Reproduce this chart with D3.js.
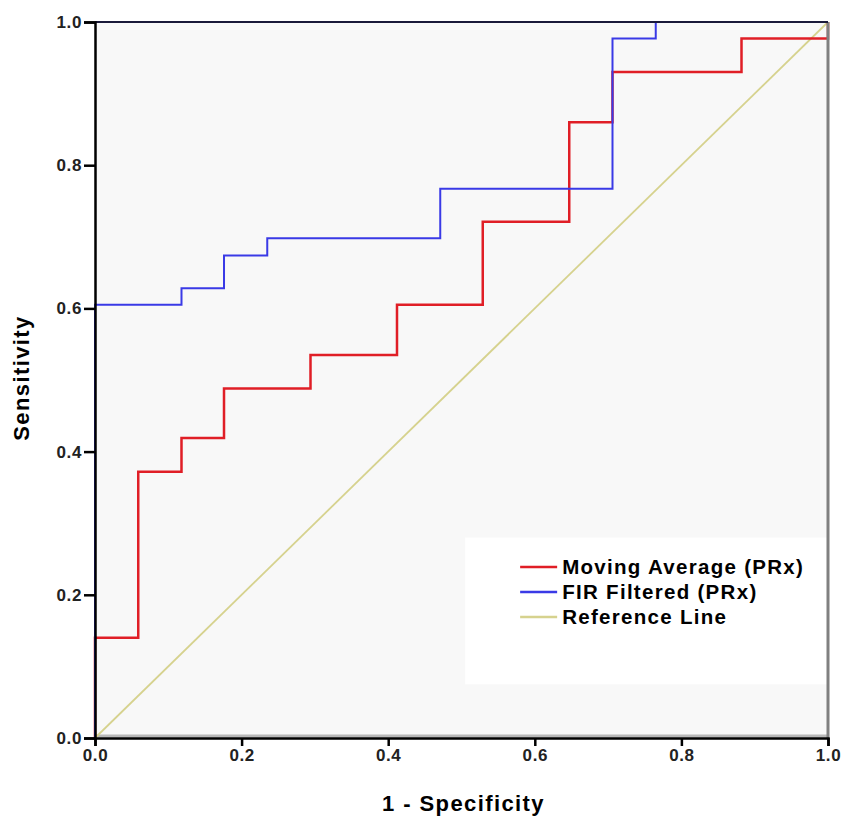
<!DOCTYPE html>
<html>
<head>
<meta charset="utf-8">
<script src="https://cdn.jsdelivr.net/npm/d3@7"></script>
<style>
  body { margin: 0; background: #fff; }
  text { font-family: Arial, "Liberation Sans", sans-serif; }
</style>
</head>
<body>
<div id="chart"></div>
<script>
// ROC curve data: x = 1 - specificity, y = sensitivity
var movingAvgX = [0, 0, 0.059, 0.059, 0.118, 0.118, 0.176, 0.176, 0.294, 0.294, 0.412, 0.412, 0.529, 0.529, 0.647, 0.647, 0.706, 0.706, 0.882, 0.882, 1.0, 1.0];
var movingAvgY = [0, 0.140, 0.140, 0.372, 0.372, 0.419, 0.419, 0.488, 0.488, 0.535, 0.535, 0.605, 0.605, 0.721, 0.721, 0.860, 0.860, 0.930, 0.930, 0.977, 0.977, 1.0];

var firX = [0, 0, 0.118, 0.118, 0.176, 0.176, 0.235, 0.235, 0.471, 0.471, 0.706, 0.706, 0.765, 0.765, 1.0];
var firY = [0, 0.605, 0.605, 0.628, 0.628, 0.674, 0.674, 0.698, 0.698, 0.767, 0.767, 0.977, 0.977, 1.0, 1.0];

var refX = [0, 1];
var refY = [0, 1];

var ticks = [0, 0.2, 0.4, 0.6, 0.8, 1.0];

var legendNames = ["Moving Average (PRx)", "FIR Filtered (PRx)", "Reference Line"];
var colors = ["#e01e26", "#3a3ae6", "#d6d28e"];

var width = 843, height = 816;
var margin = {top: 22, right: 15, bottom: 78, left: 95};
var Gwidth = width - margin.left - margin.right;
var Gheight = height - margin.top - margin.bottom;

var svg = d3.select("#chart").append("svg")
    .attr("width", width)
    .attr("height", height);

var topG = svg.append("g")
    .attr("transform", "translate(" + margin.left + "," + margin.top + ")");

var scaleX = d3.scaleLinear().domain([0, 1]).range([0, Gwidth]);
var scaleY = d3.scaleLinear().domain([0, 1]).range([Gheight, 0]);

// plot background
topG.append("rect")
    .attr("width", Gwidth)
    .attr("height", Gheight)
    .attr("fill", "#f8f8f8");

// legend box (white patch inside plot)
topG.append("rect")
    .attr("x", scaleX(0.505))
    .attr("y", scaleY(0.28))
    .attr("width", scaleX(1) - scaleX(0.505))
    .attr("height", scaleY(0.075) - scaleY(0.28))
    .attr("fill", "#ffffff");

// bottom grey band
topG.append("line")
    .attr("x1", 0).attr("x2", Gwidth)
    .attr("y1", Gheight - 2).attr("y2", Gheight - 2)
    .attr("stroke", "#b8b8b8").attr("stroke-width", 3);

var toPts = function(xs, ys) { return xs.map(function(v, i) { return [v, ys[i]]; }); };

var line = d3.line()
    .x(function(d) { return scaleX(d[0]); })
    .y(function(d) { return scaleY(d[1]); });

topG.append("path")
    .datum(toPts(refX, refY))
    .attr("d", line)
    .attr("fill", "none")
    .attr("stroke", colors[2])
    .attr("stroke-width", 1.8);

topG.append("path")
    .datum(toPts(movingAvgX, movingAvgY))
    .attr("d", line)
    .attr("fill", "none")
    .attr("stroke", colors[0])
    .attr("stroke-width", 2.5);

topG.append("path")
    .datum(toPts(firX, firY))
    .attr("d", line)
    .attr("fill", "none")
    .attr("stroke", colors[1])
    .attr("stroke-width", 2);

// frame
topG.append("line")
    .attr("x1", Gwidth).attr("x2", Gwidth)
    .attr("y1", 0).attr("y2", Gheight)
    .attr("stroke", "#808080").attr("stroke-width", 3);
topG.append("line")
    .attr("x1", 0).attr("x2", Gwidth)
    .attr("y1", 0).attr("y2", 0)
    .attr("stroke", "#1a1a3a").attr("stroke-width", 2);

// axes
var xAxis = topG.append("g")
    .attr("transform", "translate(0," + Gheight + ")")
    .call(d3.axisBottom(scaleX).tickValues(ticks).tickFormat(d3.format(".1f")).tickSize(8).tickPadding(3));
var yAxis = topG.append("g")
    .call(d3.axisLeft(scaleY).tickValues(ticks).tickFormat(d3.format(".1f")).tickSize(11).tickPadding(2));

[xAxis, yAxis].forEach(function(a) {
  a.select(".domain").attr("stroke", "#000").attr("stroke-width", 2.5);
  a.selectAll(".tick line").attr("stroke", "#000").attr("stroke-width", 2.5);
  a.selectAll(".tick text")
    .attr("fill", "#222")
    .style("font-size", "17px")
    .style("font-weight", "bold")
    .style("letter-spacing", "0.6px");
});

// axis titles
topG.append("text")
    .attr("x", Gwidth / 2 + 2)
    .attr("y", Gheight + 73)
    .style("text-anchor", "middle")
    .style("font-size", "22px")
    .style("font-weight", "bold")
    .style("letter-spacing", "1.4px")
    .text("1 - Specificity");

topG.append("text")
    .attr("transform", "rotate(-90)")
    .attr("x", -Gheight / 2 + 2)
    .attr("y", -66)
    .style("text-anchor", "middle")
    .style("font-size", "22px")
    .style("font-weight", "bold")
    .style("letter-spacing", "1.4px")
    .text("Sensitivity");

// legend
var legend = topG.append("g")
    .attr("transform", "translate(" + (scaleX(0.58)) + "," + (scaleY(0.239)) + ")");

legendNames.forEach(function(name, i) {
  var g = legend.append("g").attr("transform", "translate(0," + (i * 25) + ")");
  g.append("line")
    .attr("x1", 0).attr("x2", 37)
    .attr("y1", 0).attr("y2", 0)
    .attr("stroke", colors[i])
    .attr("stroke-width", 2.5);
  g.append("text")
    .attr("x", 42)
    .attr("y", 7)
    .style("font-size", "20.5px")
    .style("font-weight", "bold")
    .style("letter-spacing", "1.3px")
    .text(name);
});
</script>
</body>
</html>
